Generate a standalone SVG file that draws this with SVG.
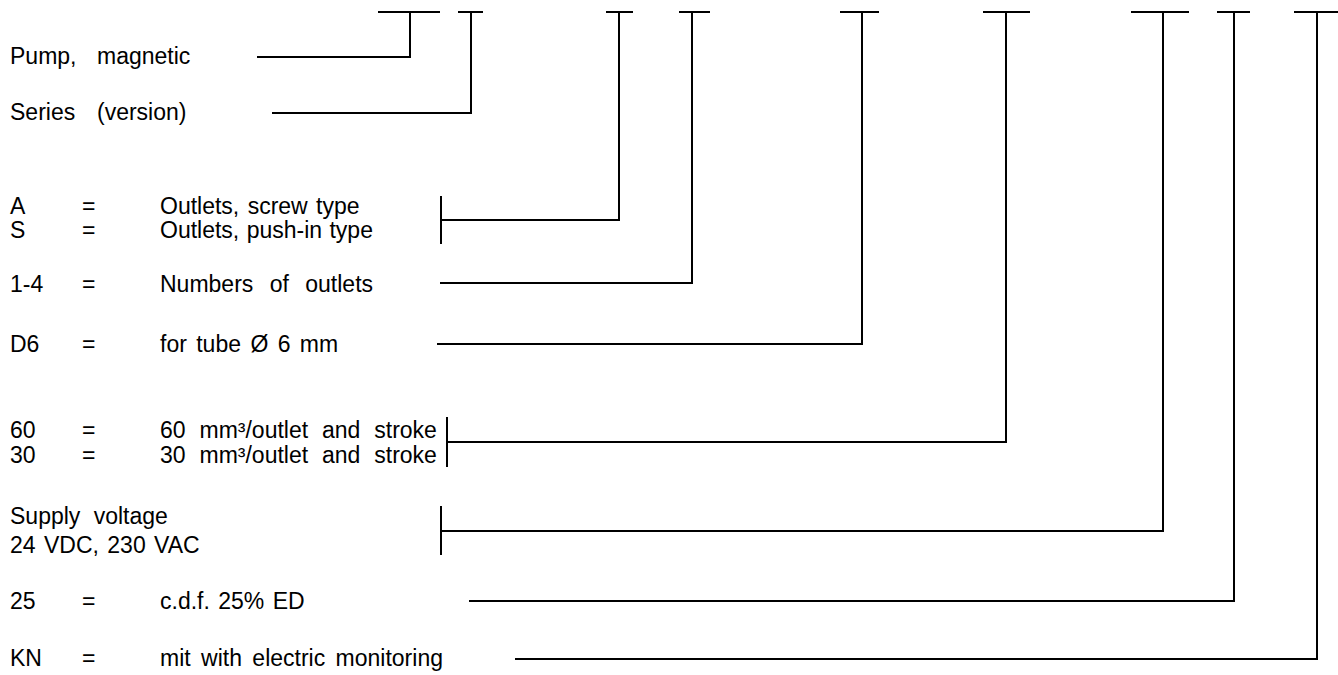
<svg xmlns="http://www.w3.org/2000/svg" width="1338" height="675" viewBox="0 0 1338 675">
  <style>
    .t { font-family: "Liberation Sans", Arial, sans-serif; font-size: 23px; fill: #000; }
    .ln { stroke: #000; stroke-width: 2; fill: none; stroke-linecap: square; }
  </style>
  <rect width="1338" height="675" fill="#fff"/>

  <!-- leader lines: tee bar on top, stem down, run left to the description -->
  <g id="connectors" class="ln">
    <path d="M379 12H439 M410 12V57H258"/>
    <path d="M459 12H482 M471 12V113H273"/>
    <path d="M607 12H632 M619 12V220H441 M441 197V243"/>
    <path d="M680 12H709 M692 12V283H441"/>
    <path d="M841 12H878 M862 12V344H438"/>
    <path d="M984 12H1029 M1006 12V442H447 M447 418V466"/>
    <path d="M1132 12H1188 M1163 12V531H441 M441 507V554"/>
    <path d="M1218 12H1249 M1234 12V601H470"/>
    <path d="M1295 12H1340 M1317 12V659H516"/>
  </g>

  <g id="pump" class="t"><text x="10" y="64">Pump,</text><text x="97" y="64">magnetic</text></g>
  <g id="series" class="t"><text x="10" y="120">Series</text><text x="97" y="120">(version)</text></g>
  <g id="outlets-type" class="t">
    <text x="10" y="214">A</text><text x="82" y="214">=</text><text x="160" y="214" word-spacing="2">Outlets, screw type</text>
    <text x="10" y="238">S</text><text x="82" y="238">=</text><text x="160" y="238" word-spacing="1">Outlets, push-in type</text>
  </g>
  <g id="outlets-number" class="t">
    <text x="10" y="292">1-4</text><text x="82" y="292">=</text><text x="160" y="292" word-spacing="10">Numbers of outlets</text>
  </g>
  <g id="tube" class="t">
    <text x="10" y="352">D6</text><text x="82" y="352">=</text><text x="160" y="352" word-spacing="3">for tube Ø 6 mm</text>
  </g>
  <g id="volume" class="t">
    <text x="10" y="438">60</text><text x="82" y="438">=</text><text x="160" y="438" word-spacing="7.5">60 mm³/outlet and stroke</text>
    <text x="10" y="463">30</text><text x="82" y="463">=</text><text x="160" y="463" word-spacing="7.5">30 mm³/outlet and stroke</text>
  </g>
  <g id="voltage" class="t">
    <text x="10" y="524" word-spacing="7">Supply voltage</text>
    <text x="10" y="553" word-spacing="2">24 VDC, 230 VAC</text>
  </g>
  <g id="duty" class="t">
    <text x="10" y="609">25</text><text x="82" y="609">=</text><text x="160" y="609" word-spacing="2">c.d.f. 25% ED</text>
  </g>
  <g id="monitoring" class="t">
    <text x="10" y="666">KN</text><text x="82" y="666">=</text><text x="160" y="666" word-spacing="4">mit with electric monitoring</text>
  </g>
</svg>
